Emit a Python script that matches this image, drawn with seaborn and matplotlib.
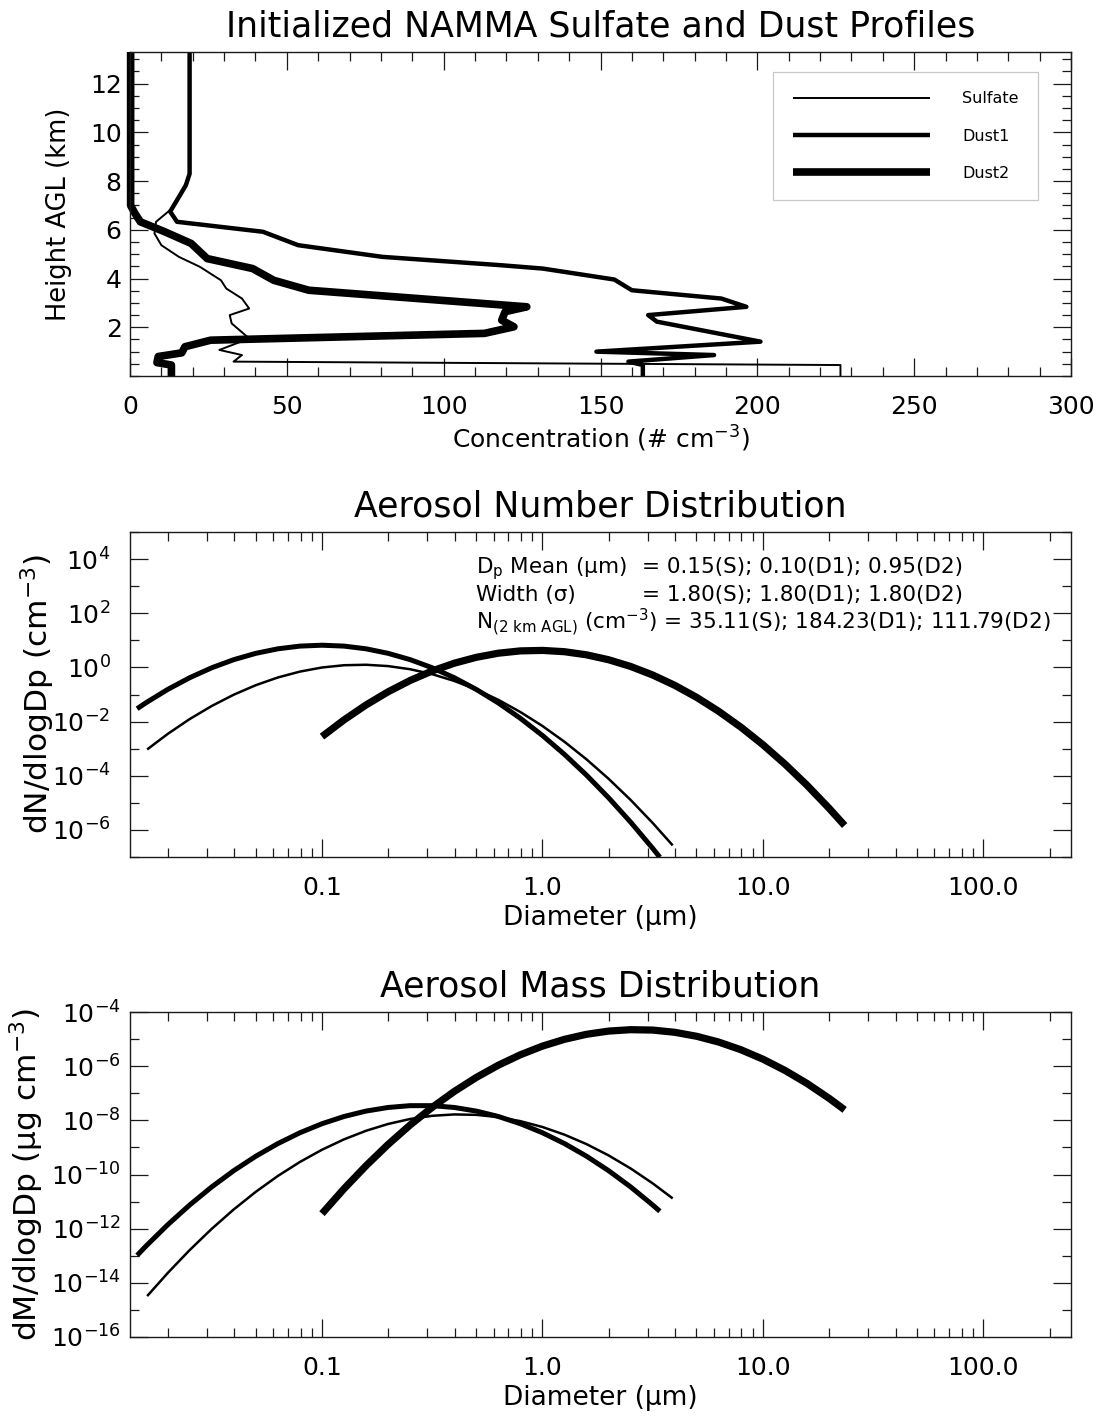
import numpy as np
import pandas as pd
import matplotlib
matplotlib.use("Agg")
import matplotlib.pyplot as plt
import seaborn as sns
from matplotlib.ticker import (FixedLocator, FixedFormatter, MultipleLocator,
                               NullFormatter, FuncFormatter, LogLocator)
from matplotlib.lines import Line2D

# ---------------- data: vertical profiles (height km, concentration # cm-3) ----
sulfate_height = [13.3, 8.3, 7.83, 7.35, 6.9, 6.33, 5.85, 5.37, 4.89, 4.48, 3.93,
                  3.59, 3.18, 2.77, 2.50, 2.16, 1.54, 1.07, 0.86, 0.59, 0.45, 0.0]
sulfate_conc = [19.0, 19.0, 17.8, 15.6, 13.6, 8.3, 7.8, 10.0, 15.6, 22.3, 29.0,
                30.7, 35.7, 38.0, 31.8, 32.4, 38.0, 28.5, 35.7, 33.0, 226.5, 226.5]

dust1_height = [13.3, 8.3, 7.83, 7.35, 6.75, 6.33, 5.92, 5.37, 4.89, 4.55, 4.41,
                3.96, 3.52, 3.18, 2.84, 2.50, 2.23, 1.89, 1.41, 1.0, 0.86, 0.59,
                0.45, 0.0]
dust1_conc = [19.0, 19.0, 17.8, 15.6, 12.8, 15.0, 42.4, 53.6, 80.5, 118.0, 131.6,
              154.4, 160.0, 188.5, 196.5, 165.2, 168.0, 181.7, 201.0, 148.7, 186.2,
              158.9, 163.5, 163.5]

dust2_height = [13.3, 7.0, 6.67, 6.33, 5.92, 5.44, 4.82, 4.41, 3.93, 3.52, 2.84,
                2.64, 2.29, 2.02, 1.75, 1.47, 1.2, 0.95, 0.8, 0.55, 0.45, 0.0]
dust2_conc = [0.2, 0.2, 1.6, 3.3, 11.1, 19.5, 24.6, 39.1, 45.8, 57.0, 126.5,
              119.6, 118.5, 122.4, 113.0, 25.7, 17.5, 16.5, 9.0, 8.6, 13.2, 13.2]

# ---------------- data: size distributions (diameter um; values read as log10) ----
sulfate_D = [0.0161, 0.01995, 0.02512, 0.03162, 0.03981, 0.05012, 0.0631, 0.07943,
             0.1, 0.1259, 0.1585, 0.1995, 0.2512, 0.3162, 0.3981, 0.5012, 0.631,
             0.7943, 1.0, 1.259, 1.585, 1.995, 2.512, 3.162, 3.9]
sulfate_log_dN = [-3.029, -2.457, -1.906, -1.423, -1.006, -0.655, -0.371, -0.154,
                  -0.003, 0.081, 0.098, 0.049, -0.067, -0.250, -0.499, -0.815,
                  -1.197, -1.647, -2.162, -2.745, -3.394, -4.110, -4.892, -5.741,
                  -6.571]
sulfate_log_dM = [-14.489, -13.639, -12.788, -12.005, -11.288, -10.637, -10.053,
                  -9.536, -9.086, -8.702, -8.385, -8.134, -7.950, -7.833, -7.782,
                  -7.798, -7.881, -8.030, -8.246, -8.529, -8.878, -9.294, -9.776,
                  -10.325, -10.883]

dust1_D = [0.0145, 0.01585, 0.01995, 0.02512, 0.03162, 0.03981, 0.05012, 0.0631,
           0.07943, 0.1, 0.1259, 0.1585, 0.1995, 0.2512, 0.3162, 0.3981, 0.5012,
           0.631, 0.7943, 1.0, 1.259, 1.585, 1.995, 2.512, 3.162, 3.41]
dust1_log_dN = [-1.525, -1.3125, -0.813, -0.380, -0.013, 0.287, 0.520, 0.687,
                0.787, 0.820, 0.787, 0.687, 0.520, 0.287, -0.013, -0.380, -0.813,
                -1.3125, -1.879, -2.512, -3.212, -3.978, -4.811, -5.711, -6.677,
                -7.010]
dust1_log_dM = [-12.986, -12.656, -11.857, -11.124, -10.457, -9.857, -9.324,
                -8.858, -8.458, -8.125, -7.858, -7.658, -7.525, -7.458, -7.458,
                -7.525, -7.658, -7.858, -8.125, -8.458, -8.858, -9.324, -9.857,
                -10.457, -11.124, -11.358]

dust2_D = [0.1, 0.1259, 0.1585, 0.1995, 0.2512, 0.3162, 0.3981, 0.5012, 0.631,
           0.7943, 1.0, 1.259, 1.585, 1.995, 2.512, 3.162, 3.981, 5.012, 6.31,
           7.943, 10.0, 12.59, 15.85, 19.95, 23.5]
dust2_log_dN = [-2.555, -1.937, -1.385, -0.900, -0.482, -0.130, 0.155, 0.373,
                0.525, 0.610, 0.628, 0.580, 0.465, 0.284, 0.036, -0.279, -0.660,
                -1.108, -1.623, -2.204, -2.852, -3.567, -4.348, -5.196, -5.838]
dust2_log_dM = [-11.445, -10.526, -9.675, -8.890, -8.171, -7.520, -6.934, -6.416,
                -5.964, -5.579, -5.260, -5.009, -4.823, -4.705, -4.653, -4.667,
                -4.749, -4.897, -5.111, -5.392, -5.740, -6.155, -6.636, -7.184,
                -7.613]

species = ["Sulfate", "Dust1", "Dust2"]
diam_ticks = [0.1, 1.0, 10.0, 100.0]
diam_labels = ["0.1", "1.0", "10.0", "100.0"]

annot_left = ["D$_\\mathrm{p}$ Mean (\u03bcm)", "Width (\u03c3)"]
annot_right = ["= 0.15(S); 0.10(D1); 0.95(D2)", "= 1.80(S); 1.80(D1); 1.80(D2)"]
annot_line3 = "N$_{(2\\ km\\ AGL)}$ (cm$^{-3}$) = 35.11(S); 184.23(D1); 111.79(D2)"

# ---------------- style ----------------
sns.set_theme(style="ticks")
plt.rcParams["font.family"] = ["DejaVu Sans"]
plt.rcParams["mathtext.fontset"] = "dejavusans"
plt.rcParams["mathtext.default"] = "regular"
plt.rcParams["text.color"] = "black"
plt.rcParams["axes.labelcolor"] = "black"
plt.rcParams["axes.titlecolor"] = "black"
plt.rcParams["axes.linewidth"] = 1.0
plt.rcParams["axes.edgecolor"] = "#1a1a1a"

fig = plt.figure(figsize=(11, 14.18), dpi=100)
L, W = 130 / 1100, 941 / 1100
ax1 = fig.add_axes([L, 1 - 376 / 1418, W, 324 / 1418])
ax2 = fig.add_axes([L, 1 - 857 / 1418, W, 325 / 1418])
ax3 = fig.add_axes([L, 1 - 1337 / 1418, W, 325 / 1418])

top_lw = [1.4, 3.2, 5.5]
dist_lw = [1.8, 3.6, 5.2]

# ---------------- panel 1: profiles ----------------
profiles = [(sulfate_conc, sulfate_height), (dust1_conc, dust1_height),
            (dust2_conc, dust2_height)]
for (c, h), lw in zip(profiles, top_lw):
    df = pd.DataFrame({"conc": c, "height": h})
    sns.lineplot(data=df, x="conc", y="height", sort=False, estimator=None,
                 color="black", linewidth=lw, ax=ax1, clip_on=False,
                 solid_capstyle="butt", solid_joinstyle="round", legend=False)

ax1.set_xlim(0, 300)
ax1.set_ylim(0, 13.3)
ax1.xaxis.set_major_locator(MultipleLocator(50))
ax1.xaxis.set_minor_locator(MultipleLocator(10))
ax1.yaxis.set_major_locator(FixedLocator([2, 4, 6, 8, 10, 12]))
ax1.yaxis.set_minor_locator(MultipleLocator(0.5))
ax1.set_xlabel("Concentration (# cm$^{-3}$)", fontsize=18)
ax1.set_ylabel("Height AGL (km)", fontsize=18.5)
ax1.xaxis.set_label_coords(0.5, -0.148)
ax1.yaxis.set_label_coords(-0.062, 0.5)
ax1.set_title("Initialized NAMMA Sulfate and Dust Profiles", fontsize=25, pad=11)
ax1.tick_params(axis="y", which="major", pad=6)

handles = [Line2D([], [], color="black", linewidth=lw, solid_capstyle="butt")
           for lw in top_lw]
leg = ax1.legend(handles, species, loc="upper right",
                 bbox_to_anchor=((1038 - 130) / 941, (376 - 72) / 324),
                 borderaxespad=0, fontsize=11.5, frameon=True, fancybox=False,
                 edgecolor="#c8c8c8", framealpha=1, handlelength=8.6,
                 handletextpad=2.0, labelspacing=1.39, borderpad=1.22)
leg.get_frame().set_linewidth(0.9)

# ---------------- panels 2 and 3: distributions ----------------
def log_fmt(v, p):
    return r"$10^{%d}$" % int(round(np.log10(v)))

dist_sets = [
    (ax2, [sulfate_log_dN, dust1_log_dN, dust2_log_dN], (1e-7, 1e5),
     np.arange(-6, 5, 2), np.arange(-7, 6, 2), "dN/dlogDp (cm$^{-3}$)",
     "Aerosol Number Distribution", 14, -0.078),
    (ax3, [sulfate_log_dM, dust1_log_dM, dust2_log_dM], (1e-16, 1e-4),
     np.arange(-16, -3, 2), np.arange(-15, -4, 2), "dM/dlogDp (\u03bcg cm$^{-3}$)",
     "Aerosol Mass Distribution", 6.5, -0.089),
]
diams = [sulfate_D, dust1_D, dust2_D]
for ax, ys, ylim, maj, mnr, ylab, title, ypad, ylx in dist_sets:
    ax.set_xscale("log")
    ax.set_yscale("log")
    for d, y, lw in zip(diams, ys, dist_lw):
        df = pd.DataFrame({"D": d, "v": np.power(10.0, y)})
        sns.lineplot(data=df, x="D", y="v", sort=False, estimator=None,
                     color="black", linewidth=lw, ax=ax, legend=False,
                     solid_capstyle="butt", solid_joinstyle="round")
    ax.set_xlim(0.01346, 250)
    ax.set_ylim(*ylim)
    ax.xaxis.set_major_locator(FixedLocator(diam_ticks))
    ax.xaxis.set_major_formatter(FixedFormatter(diam_labels))
    ax.xaxis.set_minor_locator(LogLocator(base=10, subs=np.arange(2, 10), numticks=30))
    ax.xaxis.set_minor_formatter(NullFormatter())
    ax.yaxis.set_major_locator(FixedLocator(10.0 ** maj))
    ax.yaxis.set_major_formatter(FuncFormatter(log_fmt))
    ax.yaxis.set_minor_locator(FixedLocator(10.0 ** mnr))
    ax.yaxis.set_minor_formatter(NullFormatter())
    ax.set_xlabel("Diameter (\u03bcm)", fontsize=19)
    ax.set_ylabel(ylab, fontsize=22.5)
    ax.xaxis.set_label_coords(0.5, -0.148)
    ax.yaxis.set_label_coords(ylx, 0.5)
    ax.set_title(title, fontsize=25, pad=11)
    ax.tick_params(axis="y", which="major", pad=ypad)

# annotation block in number panel
for i, (lt, rt) in enumerate(zip(annot_left, annot_right)):
    yb = (857 - (573 + 28 * i)) / 325
    ax2.text((476 - 130) / 941, yb, lt, transform=ax2.transAxes, fontsize=15.5,
             va="baseline", ha="left")
    ax2.text((642 - 130) / 941, yb, rt, transform=ax2.transAxes, fontsize=15.5,
             va="baseline", ha="left")
ax2.text((476 - 130) / 941, (857 - 629) / 325, annot_line3, transform=ax2.transAxes,
         fontsize=15.5, va="baseline", ha="left")

for ax in (ax1, ax2, ax3):
    ax.tick_params(which="both", direction="in", top=True, right=True,
                   colors="#1a1a1a", labelcolor="black", width=0.9)
    ax.tick_params(which="major", length=13, labelsize=18)
    ax.tick_params(which="minor", length=6.5)
    ax.tick_params(axis="x", which="major", pad=14)
    for s in ax.spines.values():
        s.set_linewidth(1.0)
        s.set_color("#1a1a1a")

fig.savefig("out.png", dpi=100)
